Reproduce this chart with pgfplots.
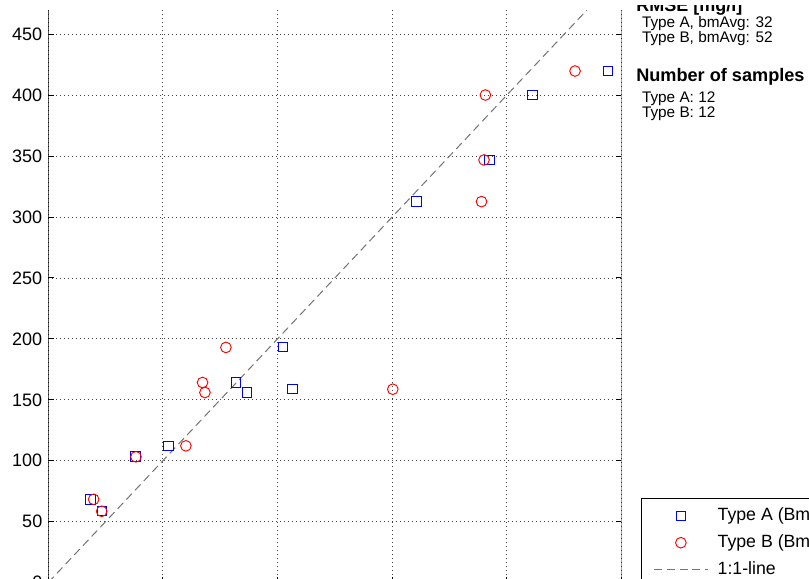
\documentclass[border=0pt]{standalone}
\usepackage{pgfplots}
\pgfplotsset{compat=1.18}
\usepackage{fontspec}
\setmainfont{Liberation Sans}
\definecolor{mblue}{RGB}{0,0,255}
\definecolor{mred}{RGB}{255,0,0}
\begin{document}
\begin{tikzpicture}
\useasboundingbox (0,0) rectangle (606.75pt,433.5pt);
\begin{scope}
\clip (0,0) rectangle (606.75pt,433.5pt);
\begin{axis}[
  at={(36.2pt,-3.4pt)}, anchor=south west,
  scale only axis, width=429.8pt, height=429.4pt,
  xmin=0, xmax=500, ymin=0, ymax=470,
  xtick={0,100,...,500}, ytick={0,50,...,450},
  xticklabels={},
  xtick pos=left, ytick pos=both,
  tick align=inside, major tick length=4pt,
  every tick/.style={black, line width=0.75pt},
  axis line style={draw=none},
  grid=major,
  major grid style={black!75, line width=0.7pt, dash pattern=on 0.7pt off 2.3pt},
  /pgf/number format/assume math mode=true,
  ticklabel style={font=\fontsize{13.5}{15}\selectfont},
  yticklabel style={inner sep=0pt, xshift=-4.3pt},
  legend style={at={(1.0344,0.1471)}, anchor=north west, draw=black, line width=0.6pt,
    font=\fontsize{13.3}{15}\selectfont, inner xsep=9.2pt, inner ysep=6.3pt,
    row sep=7.2pt, column sep=7.2pt,
    nodes={inner sep=0pt, text height=10pt, text depth=3pt}},
  legend cell align=left,
  legend image code/.code={\draw[mark repeat=2,mark phase=2,#1] plot coordinates {(0pt,0pt) (20pt,0pt) (40pt,0pt)};},
]
\addplot[only marks, mark=square, mark size=3.6pt, mblue, mark options={line width=0.7pt}] coordinates {
(36.6,68.3) (46.8,58.7) (76.2,103.5) (105,112) (163.7,164.2) (173.5,156)
(204.9,193.5) (213.1,159) (321.3,312.7) (384.9,346.9) (422.7,400.2) (488.4,419.9)};
\addlegendentry{Type A (BmAvg)}
\addplot[only marks, mark=o, mark size=4pt, mred, mark options={line width=0.7pt}] coordinates {
(39.6,68.3) (46.6,58.5) (76.5,103.2) (120.1,112.2) (134.6,164.2) (136.7,156)
(155,193) (300.6,158.7) (378,312.7) (380.2,346.9) (381.4,400.2) (459.6,419.9)};
\addlegendentry{Type B (BmAvg)}
\addplot[gray!90!black, line width=0.75pt, dash pattern=on 6pt off 3.5pt] coordinates {(0,0) (470,470)};
\addlegendentry{1:1-line}
\draw[black, line width=0.8pt] (rel axis cs:0,0) -- (rel axis cs:0,1);
\draw[black, line width=0.8pt] (rel axis cs:1,0) -- (rel axis cs:1,1);
\end{axis}
\begin{scope}
\clip (468pt,0pt) rectangle (606.75pt,429.5pt);
\node[anchor=base west, inner sep=0pt, font=\fontsize{13.5}{15}\selectfont\bfseries] at (477pt,424.5pt) {RMSE [mg/l]};
\end{scope}
\node[anchor=base west, inner sep=0pt, font=\fontsize{11.5}{13}\selectfont] at (481.3pt,413.0pt) {Type A, bmAvg: 32};
\node[anchor=base west, inner sep=0pt, font=\fontsize{11.5}{13}\selectfont] at (481.3pt,401.8pt) {Type B, bmAvg: 52};
\node[anchor=base west, inner sep=0pt, font=\fontsize{13.6}{15}\selectfont\bfseries] at (477pt,372.2pt) {Number of samples};
\node[anchor=base west, inner sep=0pt, font=\fontsize{11.5}{13}\selectfont] at (481.3pt,356.5pt) {Type A: 12};
\node[anchor=base west, inner sep=0pt, font=\fontsize{11.5}{13}\selectfont] at (481.3pt,345.5pt) {Type B: 12};
\end{scope}
\end{tikzpicture}
\end{document}
